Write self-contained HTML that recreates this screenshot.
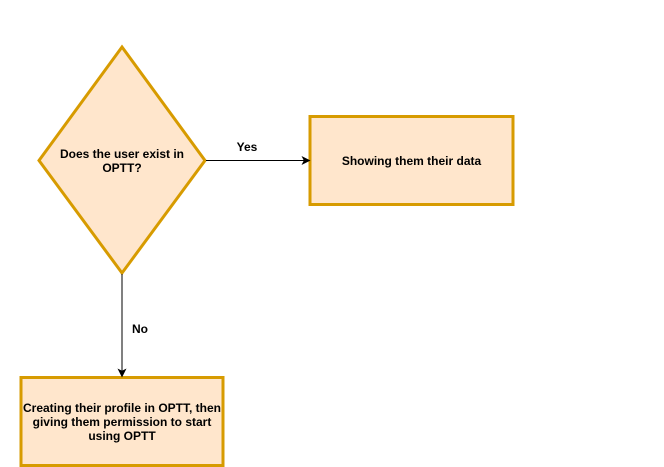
<!DOCTYPE html>
<html>
<head>
<meta charset="utf-8">
<style>
html,body{margin:0;padding:0;background:#fff;width:664px;height:467px;overflow:hidden}
svg{display:block}
text{font-family:"Liberation Sans",Arial,sans-serif;font-size:12px;font-weight:bold;fill:#000;text-anchor:middle}
</style>
</head>
<body>
<svg width="664" height="467" viewBox="0 0 664 467" xmlns="http://www.w3.org/2000/svg">
<polygon points="122,47 205,160.5 122,273 39,160.5" fill="#ffe6cc" stroke="#d79b00" stroke-width="3"/>
<rect x="310" y="116.500" width="203" height="88" fill="#ffe6cc" stroke="#d79b00" stroke-width="3"/>
<rect x="21" y="377.500" width="202" height="88" fill="#ffe6cc" stroke="#d79b00" stroke-width="3"/>
<line x1="206" y1="160.500" x2="305" y2="160.500" stroke="#000" stroke-width="1"/>
<polygon points="310.500,160.500 301.500,156 303.800,160.500 301.500,165" fill="#000"/>
<line x1="122" y1="274" x2="122" y2="372" stroke="#000" stroke-width="1"/>
<polygon points="122,377.500 117.500,368.500 122,370.800 126.500,368.500" fill="#000"/>
<text x="122" y="158">Does the user exist in</text>
<text x="122" y="172">OPTT?</text>
<text x="411.500" y="165">Showing them their data</text>
<text x="122" y="412">Creating their profile in OPTT, then</text>
<text x="122" y="426">giving them permission to start</text>
<text x="122" y="440">using OPTT</text>
<text x="247" y="151">Yes</text>
<text x="140" y="333">No</text>
</svg>
</body>
</html>
